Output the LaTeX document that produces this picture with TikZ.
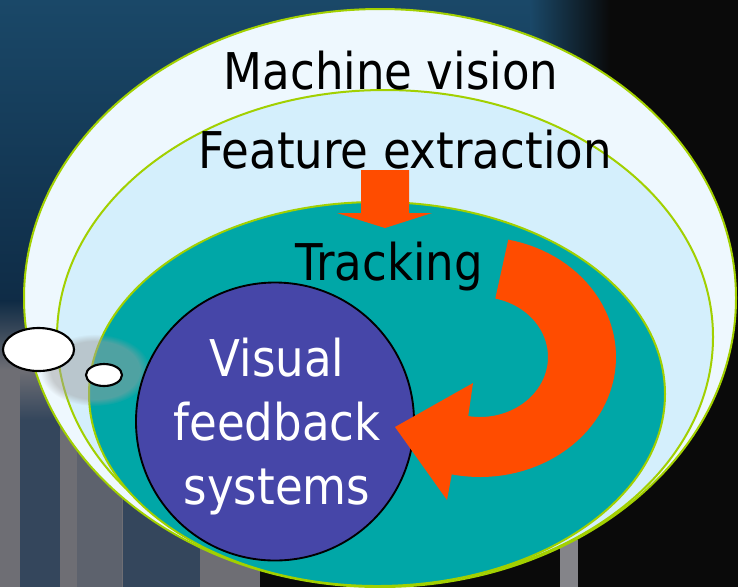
\documentclass[tikz,border=0pt]{standalone}
\usepackage{fontspec}
\setmainfont{DejaVu Sans}[FakeStretch=0.89]
\usetikzlibrary{fadings}
\definecolor{bgdark}{HTML}{0A0A0A}
\definecolor{bgblueA}{HTML}{1A4868}
\definecolor{bgblueB}{HTML}{0E2A44}
\definecolor{bggray}{HTML}{6E6E74}
\definecolor{bgstripe}{HTML}{34465C}
\definecolor{ringline}{HTML}{A2D000}
\definecolor{ringA}{HTML}{EEF8FE}
\definecolor{ringB}{HTML}{D4EFFC}
\definecolor{tealfill}{HTML}{00A7A7}
\definecolor{purplefill}{HTML}{4646A8}
\definecolor{arroworange}{HTML}{FF4C00}
\tikzset{
  ring/.style={draw=ringline, line width=1.5pt},
  lbl/.style={anchor=base, inner sep=0pt, font=\fontsize{38}{48}\selectfont},
  bubble/.style={fill=white, draw=black, line width=1.6pt},
  bigarrow/.style={fill=arroworange, draw=none}
}
\begin{document}
\begin{tikzpicture}[x=0.75pt,y=-0.75pt]
\useasboundingbox (0,0) rectangle (738,587);
\clip (0,0) rectangle (738,587);
% background photo approximation
\fill[bgdark] (0,0) rectangle (738,587);
\shade[top color=bgblueA, bottom color=bgblueB] (0,0) rectangle (530,320);
\shade[left color=bgblueA, right color=bgdark] (530,0) rectangle (610,70);
\shade[top color=bgblueB, bottom color=bggray] (0,300) rectangle (260,370);
\fill[bggray] (0,370) rectangle (260,587);
\shade[top color=bggray, bottom color=bgstripe] (20,370) rectangle (60,420);
\fill[bgstripe] (20,420) rectangle (60,587);
\fill[bggray!70!bgstripe] (77,400) rectangle (122,587);
\fill[bgstripe] (123,420) rectangle (200,587);
\fill[bggray!85!white] (560,540) rectangle (578,587);
% rings
\filldraw[ring, fill=ringA] (380,298) ellipse [x radius=356, y radius=289];
\filldraw[ring, fill=ringB] (385,337) ellipse [x radius=328, y radius=247];
\filldraw[ring, fill=tealfill] (377,394) ellipse [x radius=288, y radius=192];
% shadow of the thought bubbles
\fill[gray!75, path fading=circle with fuzzy edge 20 percent, opacity=.5] (95,370) ellipse [x radius=55, y radius=36];
% straight arrow
\fill[bigarrow] (361,170) -- (409,170) -- (409,213) -- (432,213) -- (385,228)
  -- (337,213) -- (361,213) -- cycle;
% texts
\node[lbl] (mv) at (391,89) {Machine vision};
\node[lbl] (fe) at (405,168) {Feature extraction};
\node[lbl] (tr) at (389,280) {Tracking};
% purple circle
\filldraw[fill=purplefill, draw=black, line width=1.4pt] (275,421.5) circle [radius=139];
\node[lbl, text=white, align=center] (vfs) at (277,504) {Visual\\feedback\\systems};
% curved arrow
\fill[bigarrow] plot[domain=-78:102, samples=60] ({480+136*cos(\x)},{357+120*sin(\x)})
  -- (447,500) -- (395,427) -- (473,383)
  -- plot[domain=100:-77, samples=60] ({480+68*cos(\x)},{357+60*sin(\x)}) -- cycle;
% thought bubbles
\filldraw[bubble] (38.5,349.5) ellipse [x radius=35.5, y radius=21.5];
\filldraw[bubble] (104,375) ellipse [x radius=18, y radius=11];
\end{tikzpicture}
\end{document}
